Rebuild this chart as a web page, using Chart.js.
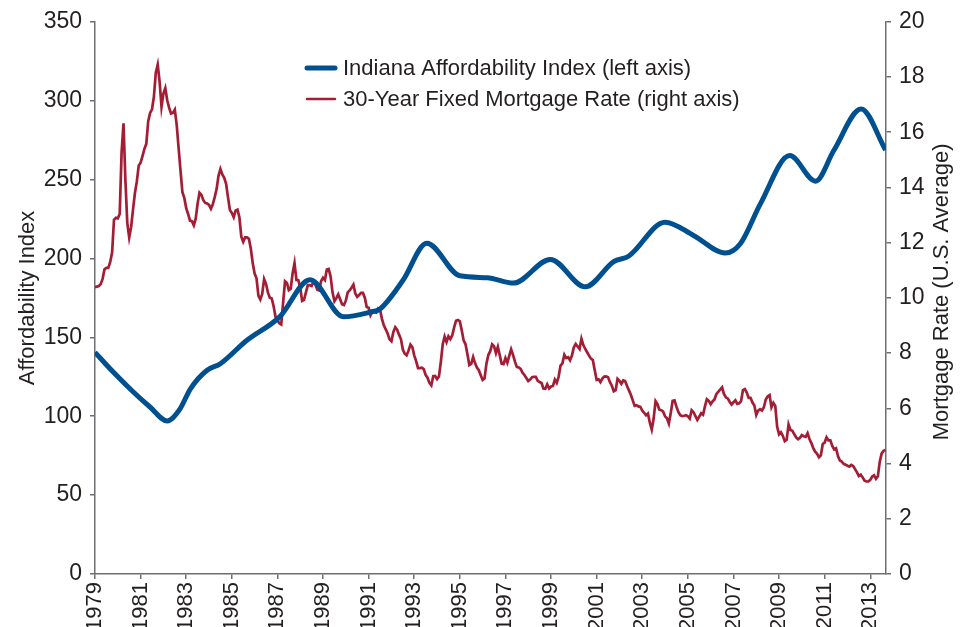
<!DOCTYPE html>
<html>
<head>
<meta charset="utf-8">
<title>Indiana Affordability Index vs 30-Year Mortgage Rate</title>
<script src="https://cdn.jsdelivr.net/npm/chart.js@4.4.1/dist/chart.umd.min.js"></script>
<style>
    html, body { margin: 0; padding: 0; background: #fff; overflow: hidden; }
    #wrap { position: relative; width: 964px; height: 627px; }
</style>
</head>
<body>
<div id="wrap"><canvas id="chart"></canvas></div>
<script>
// Indiana affordability index (left axis)
const affordYears = [
    1979.0, 1979.8, 1980.6, 1981.4, 1982.17, 1982.7, 1983.2, 1983.9, 1984.5, 1985.65, 1987.1,
    1988.43, 1989.9, 1991.07, 1991.5, 1992.5, 1993.55, 1995.0, 1996.2, 1997.35, 1998.97,
    2000.5, 2001.75, 2002.4, 2004.0, 2005.25, 2006.64, 2007.3, 2008.18, 2009.47, 2010.6,
    2011.4, 2012.6, 2013.67
];
const affordIndex = [
    140.5, 128, 116.5, 106, 97, 104, 117.7, 129, 133.3, 148, 163,
    186.5, 163, 166, 168, 186, 209.7, 189, 187.8, 184.4, 199.4,
    182, 198, 201.4, 223, 214.6, 203.4, 209.3, 234.6, 265.2, 249,
    268.4, 294.7, 268.8
];

// 30-year fixed mortgage rate (right axis), monthly from Jan 1979
const rateStartYear = 1979;
const mortgageRate = [
    10.39, 10.41, 10.43, 10.50, 10.69, 11.04, 11.09, 11.09, 11.30, 11.64, 12.83, 12.90, // 1979
    12.88, 13.04, 15.28, 16.32, 14.26, 12.71, 12.19, 12.56, 13.20, 13.79, 14.21, 14.79, // 1980
    14.90, 15.13, 15.40, 15.58, 16.40, 16.70, 16.83, 17.29, 18.16, 18.45, 17.83, 16.92, // 1981
    17.40, 17.60, 17.16, 16.89, 16.68, 16.70, 16.82, 16.27, 15.43, 14.61, 13.83, 13.62, // 1982
    13.25, 13.04, 12.80, 12.78, 12.63, 12.87, 13.42, 13.81, 13.73, 13.54, 13.44, 13.42, // 1983
    13.37, 13.23, 13.39, 13.65, 13.94, 14.42, 14.67, 14.47, 14.35, 14.13, 13.64, 13.18, // 1984
    13.08, 12.92, 13.17, 13.20, 12.91, 12.22, 12.03, 12.19, 12.19, 12.14, 11.78, 11.26, // 1985
    10.88, 10.71, 10.08, 9.94, 10.14, 10.68, 10.51, 10.20, 10.01, 9.98, 9.70, 9.32,     // 1986
    9.20, 9.08, 9.04, 9.83, 10.60, 10.54, 10.28, 10.33, 10.89, 11.26, 10.65, 10.64,     // 1987
    10.38, 9.89, 9.93, 10.20, 10.46, 10.46, 10.43, 10.60, 10.48, 10.30, 10.27, 10.61,   // 1988
    10.73, 10.65, 11.03, 11.05, 10.77, 10.20, 9.88, 9.99, 10.13, 9.95, 9.77, 9.74,      // 1989
    9.90, 10.20, 10.27, 10.37, 10.48, 10.16, 10.04, 10.10, 10.18, 10.18, 10.01, 9.67,   // 1990
    9.64, 9.37, 9.50, 9.49, 9.47, 9.62, 9.58, 9.24, 9.01, 8.86, 8.71, 8.50,             // 1991
    8.43, 8.76, 8.94, 8.85, 8.67, 8.51, 8.13, 7.98, 7.92, 8.09, 8.31, 8.22,             // 1992
    7.92, 7.71, 7.46, 7.46, 7.47, 7.42, 7.21, 7.11, 6.92, 6.83, 7.16, 7.17,             // 1993
    7.06, 7.15, 7.68, 8.32, 8.60, 8.40, 8.61, 8.51, 8.64, 8.93, 9.17, 9.20,             // 1994
    9.15, 8.83, 8.46, 8.32, 7.96, 7.57, 7.61, 7.86, 7.64, 7.48, 7.38, 7.20,             // 1995
    7.03, 7.08, 7.62, 7.93, 8.07, 8.32, 8.25, 8.00, 8.23, 7.92, 7.62, 7.60,             // 1996
    7.82, 7.65, 7.90, 8.14, 7.94, 7.69, 7.50, 7.48, 7.43, 7.29, 7.21, 7.10,             // 1997
    6.99, 7.04, 7.13, 7.14, 7.14, 7.00, 6.95, 6.92, 6.72, 6.71, 6.87, 6.72,             // 1998
    6.79, 6.81, 7.04, 6.92, 7.15, 7.55, 7.63, 7.94, 7.82, 7.85, 7.74, 7.91,             // 1999
    8.21, 8.33, 8.24, 8.15, 8.52, 8.29, 8.15, 8.03, 7.91, 7.80, 7.75, 7.38,             // 2000
    7.03, 7.05, 6.95, 7.08, 7.15, 7.16, 7.13, 6.95, 6.82, 6.62, 6.66, 7.07,             // 2001
    7.00, 6.89, 7.01, 6.99, 6.81, 6.65, 6.49, 6.29, 6.09, 6.11, 6.07, 6.05,             // 2002
    5.92, 5.84, 5.75, 5.81, 5.48, 5.23, 5.63, 6.26, 6.15, 5.95, 5.93, 5.88,             // 2003
    5.71, 5.64, 5.45, 5.83, 6.27, 6.29, 6.06, 5.87, 5.75, 5.72, 5.73, 5.75,             // 2004
    5.71, 5.63, 5.93, 5.86, 5.72, 5.58, 5.70, 5.82, 5.77, 6.07, 6.33, 6.27,             // 2005
    6.15, 6.25, 6.32, 6.51, 6.60, 6.68, 6.76, 6.52, 6.40, 6.36, 6.24, 6.14,             // 2006
    6.22, 6.29, 6.16, 6.18, 6.26, 6.66, 6.70, 6.57, 6.38, 6.38, 6.21, 6.10,             // 2007
    5.76, 5.92, 5.97, 5.92, 6.04, 6.32, 6.43, 6.48, 6.04, 6.20, 6.09, 5.33,             // 2008
    5.06, 5.13, 5.00, 4.81, 4.86, 5.42, 5.22, 5.19, 5.06, 4.95, 4.88, 4.93,             // 2009
    5.03, 4.99, 4.97, 5.10, 4.89, 4.74, 4.56, 4.43, 4.35, 4.23, 4.30, 4.71,             // 2010
    4.76, 4.95, 4.84, 4.84, 4.64, 4.51, 4.55, 4.27, 4.11, 4.07, 3.99, 3.96,             // 2011
    3.92, 3.89, 3.95, 3.91, 3.80, 3.68, 3.55, 3.60, 3.50, 3.38, 3.35, 3.35,             // 2012
    3.41, 3.53, 3.57, 3.45, 3.54, 4.07, 4.37, 4.46, 4.49                                // 2013
];

const yearTicks = [1979, 1981, 1983, 1985, 1987, 1989, 1991, 1993, 1995, 1997,
    1999, 2001, 2003, 2005, 2007, 2009, 2011, 2013];
const leftTicks = [0, 50, 100, 150, 200, 250, 300, 350];
const rightTicks = [0, 2, 4, 6, 8, 10, 12, 14, 16, 18, 20];

const seriesNames = [
    'Indiana Affordability Index (left axis)',
    '30-Year Fixed Mortgage Rate (right axis)'
];

const BLUE = '#00508f';
const RED = '#a31d35';
const TEXT = '#231f20';
const AXIS = '#6d6e71';
const FONT = '"Liberation Sans", Arial, Helvetica, sans-serif';

const affordPoints = affordYears.map((yr, i) => ({ x: yr, y: affordIndex[i] }));
const ratePoints = mortgageRate.map((v, i) => ({ x: rateStartYear + i / 12, y: v }));

// legend drawn inside the plot, stacked, plus the right axis title (reads bottom to top)
const insideLegend = {
    id: 'insideLegend',
    afterDraw(chart) {
        const ctx = chart.ctx;
        const items = [
            { text: seriesNames[0], color: BLUE, width: 5, y: 68 },
            { text: seriesNames[1], color: RED, width: 2.5, y: 99 }
        ];
        ctx.save();
        ctx.font = '22px ' + FONT;
        ctx.textBaseline = 'middle';
        ctx.lineCap = 'round';
        items.forEach(it => {
            ctx.strokeStyle = it.color;
            ctx.lineWidth = it.width;
            ctx.beginPath();
            ctx.moveTo(307, it.y);
            ctx.lineTo(335, it.y);
            ctx.stroke();
            ctx.fillStyle = TEXT;
            ctx.fillText(it.text, 343, it.y + 1);
        });

        const area = chart.chartArea;
        ctx.translate(942, (area.top + area.bottom) / 2 - 6);
        ctx.rotate(-Math.PI / 2);
        ctx.textAlign = 'center';
        ctx.fillText('Mortgage Rate (U.S. Average)', 0, 0);
        ctx.restore();
    }
};

Chart.defaults.font.family = FONT;
Chart.defaults.color = TEXT;

new Chart(document.getElementById('chart'), {
    type: 'line',
    data: {
        datasets: [
            {
                label: seriesNames[0],
                data: affordPoints,
                yAxisID: 'yLeft',
                borderColor: BLUE,
                borderWidth: 5,
                pointRadius: 0,
                cubicInterpolationMode: 'monotone',
                fill: false
            },
            {
                label: seriesNames[1],
                data: ratePoints,
                yAxisID: 'yRight',
                borderColor: RED,
                borderWidth: 2.7,
                pointRadius: 0,
                tension: 0,
                fill: false
            }
        ]
    },
    plugins: [insideLegend],
    options: {
        responsive: true,
        maintainAspectRatio: false,
        animation: false,
        layout: { padding: { top: 21, right: 0, bottom: 0, left: 0 } },
        plugins: {
            legend: { display: false },
            tooltip: { enabled: false }
        },
        scales: {
            x: {
                type: 'linear',
                min: 1979,
                max: 2013.69,
                afterBuildTicks: (scale) => {
                    scale.ticks = yearTicks.map(v => ({ value: v }));
                },
                afterFit: (scale) => { scale.height = 53; },
                grid: { drawOnChartArea: false, drawTicks: true, tickLength: 5, color: AXIS, lineWidth: 1.5 },
                border: { display: true, color: AXIS, width: 1.5 },
                ticks: {
                    autoSkip: false,
                    maxRotation: 90,
                    minRotation: 90,
                    padding: 3,
                    font: { size: 22 },
                    color: TEXT,
                    callback: (v) => String(v)
                }
            },
            yLeft: {
                position: 'left',
                min: 0,
                max: 350,
                afterBuildTicks: (scale) => {
                    scale.ticks = leftTicks.map(v => ({ value: v }));
                },
                afterFit: (scale) => { scale.width = 95; },
                grid: { drawOnChartArea: false, drawTicks: true, tickLength: 5, color: AXIS, lineWidth: 1.5 },
                border: { display: true, color: AXIS, width: 1.5 },
                ticks: { padding: 8, font: { size: 23 }, color: TEXT },
                title: {
                    display: true,
                    text: 'Affordability Index',
                    font: { size: 22 },
                    color: TEXT,
                    padding: { top: 15, bottom: 0 }
                }
            },
            yRight: {
                position: 'right',
                min: 0,
                max: 20,
                afterBuildTicks: (scale) => {
                    scale.ticks = rightTicks.map(v => ({ value: v }));
                },
                afterFit: (scale) => { scale.width = 78; },
                grid: { drawOnChartArea: false, drawTicks: true, tickLength: 5, color: AXIS, lineWidth: 1.5 },
                border: { display: true, color: AXIS, width: 1.5 },
                ticks: { padding: 8, font: { size: 23 }, color: TEXT }
            }
        }
    }
});
</script>
</body>
</html>
